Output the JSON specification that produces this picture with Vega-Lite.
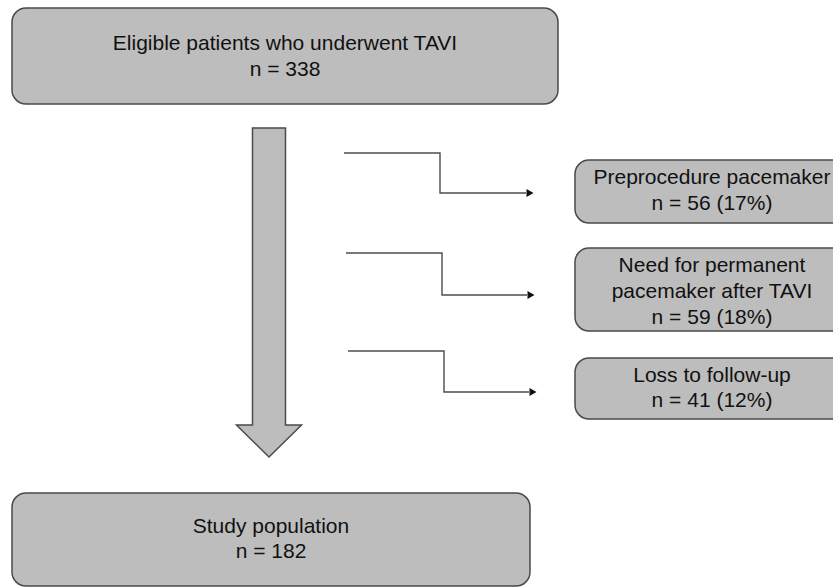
{
  "$schema": "https://vega.github.io/schema/vega-lite/v6.json",
  "width": 833,
  "height": 588,
  "padding": 0,
  "autosize": {"type": "fit", "contains": "padding"},
  "background": "white",
  "config": {"view": {"stroke": null}},
  "datasets": {
    "boxes": [
      {"id": "top", "x1": 12, "x2": 558, "y1": 8, "y2": 104},
      {"id": "bottom", "x1": 12, "x2": 530, "y1": 493, "y2": 586},
      {"id": "r1", "x1": 575, "x2": 850, "y1": 160, "y2": 223},
      {"id": "r2", "x1": 575, "x2": 850, "y1": 248, "y2": 331},
      {"id": "r3", "x1": 575, "x2": 850, "y1": 358, "y2": 419}
    ],
    "texts": [
      {"label": "Eligible patients who underwent TAVI", "x": 285, "y": 50},
      {"label": "n = 338", "x": 285, "y": 76},
      {"label": "Study population", "x": 271, "y": 533},
      {"label": "n = 182", "x": 271, "y": 558},
      {"label": "Preprocedure pacemaker", "x": 712, "y": 184},
      {"label": "n = 56 (17%)", "x": 712, "y": 210},
      {"label": "Need for permanent", "x": 712, "y": 272},
      {"label": "pacemaker after TAVI", "x": 712, "y": 298},
      {"label": "n = 59 (18%)", "x": 712, "y": 324},
      {"label": "Loss to follow-up", "x": 712, "y": 382},
      {"label": "n = 41 (12%)", "x": 712, "y": 407}
    ],
    "arrow": [
      {"id": "flow", "x": 269, "y": 292.5}
    ],
    "connectors": [
      {"g": "a", "k": 1, "x": 344, "y": 153},
      {"g": "a", "k": 2, "x": 440, "y": 153},
      {"g": "a", "k": 3, "x": 440, "y": 193},
      {"g": "a", "k": 4, "x": 526, "y": 193},
      {"g": "b", "k": 1, "x": 346, "y": 253},
      {"g": "b", "k": 2, "x": 442, "y": 253},
      {"g": "b", "k": 3, "x": 442, "y": 295},
      {"g": "b", "k": 4, "x": 527, "y": 295},
      {"g": "c", "k": 1, "x": 348, "y": 351},
      {"g": "c", "k": 2, "x": 444, "y": 351},
      {"g": "c", "k": 3, "x": 444, "y": 392},
      {"g": "c", "k": 4, "x": 529, "y": 392}
    ],
    "heads": [
      {"g": "a", "x": 530, "y": 193},
      {"g": "b", "x": 531, "y": 295},
      {"g": "c", "x": 533, "y": 392}
    ]
  },
  "layer": [
    {
      "data": {"name": "boxes"},
      "mark": {"type": "rect", "fill": "#bdbdbd", "stroke": "#4a4a4a", "strokeWidth": 1.5, "cornerRadius": 14, "clip": true},
      "encoding": {
        "x": {"field": "x1", "type": "quantitative", "scale": {"domain": [0, 833], "nice": false, "zero": false}, "axis": null},
        "x2": {"field": "x2"},
        "y": {"field": "y1", "type": "quantitative", "scale": {"domain": [0, 588], "nice": false, "zero": false, "reverse": true}, "axis": null},
        "y2": {"field": "y2"}
      }
    },
    {
      "data": {"name": "arrow"},
      "mark": {"type": "point", "shape": "M-0.1003,-1L0.1003,-1L0.1003,0.8055L0.1976,0.8055L0,1L-0.1976,0.8055L-0.1003,0.8055Z", "filled": true, "fill": "#bdbdbd", "opacity": 1, "fillOpacity": 1, "stroke": "#4a4a4a", "strokeWidth": 1.5, "strokeOpacity": 1, "size": 108241},
      "encoding": {
        "x": {"field": "x", "type": "quantitative", "scale": {"domain": [0, 833], "nice": false, "zero": false}, "axis": null},
        "y": {"field": "y", "type": "quantitative", "scale": {"domain": [0, 588], "nice": false, "zero": false, "reverse": true}, "axis": null}
      }
    },
    {
      "data": {"name": "connectors"},
      "mark": {"type": "line", "stroke": "#4d4d4d", "strokeWidth": 1.4, "strokeJoin": "miter"},
      "encoding": {
        "x": {"field": "x", "type": "quantitative", "scale": {"domain": [0, 833], "nice": false, "zero": false}, "axis": null},
        "y": {"field": "y", "type": "quantitative", "scale": {"domain": [0, 588], "nice": false, "zero": false, "reverse": true}, "axis": null},
        "detail": {"field": "g", "type": "nominal"},
        "order": {"field": "k", "type": "quantitative"}
      }
    },
    {
      "data": {"name": "heads"},
      "mark": {"type": "point", "shape": "triangle-right", "filled": true, "fill": "#111111", "opacity": 1, "size": 65},
      "encoding": {
        "x": {"field": "x", "type": "quantitative", "scale": {"domain": [0, 833], "nice": false, "zero": false}, "axis": null},
        "y": {"field": "y", "type": "quantitative", "scale": {"domain": [0, 588], "nice": false, "zero": false, "reverse": true}, "axis": null}
      }
    },
    {
      "data": {"name": "texts"},
      "mark": {"type": "text", "font": "Liberation Sans", "fontSize": 21, "color": "#111111", "align": "center", "baseline": "alphabetic"},
      "encoding": {
        "x": {"field": "x", "type": "quantitative", "scale": {"domain": [0, 833], "nice": false, "zero": false}, "axis": null},
        "y": {"field": "y", "type": "quantitative", "scale": {"domain": [0, 588], "nice": false, "zero": false, "reverse": true}, "axis": null},
        "text": {"field": "label"}
      }
    }
  ]
}
